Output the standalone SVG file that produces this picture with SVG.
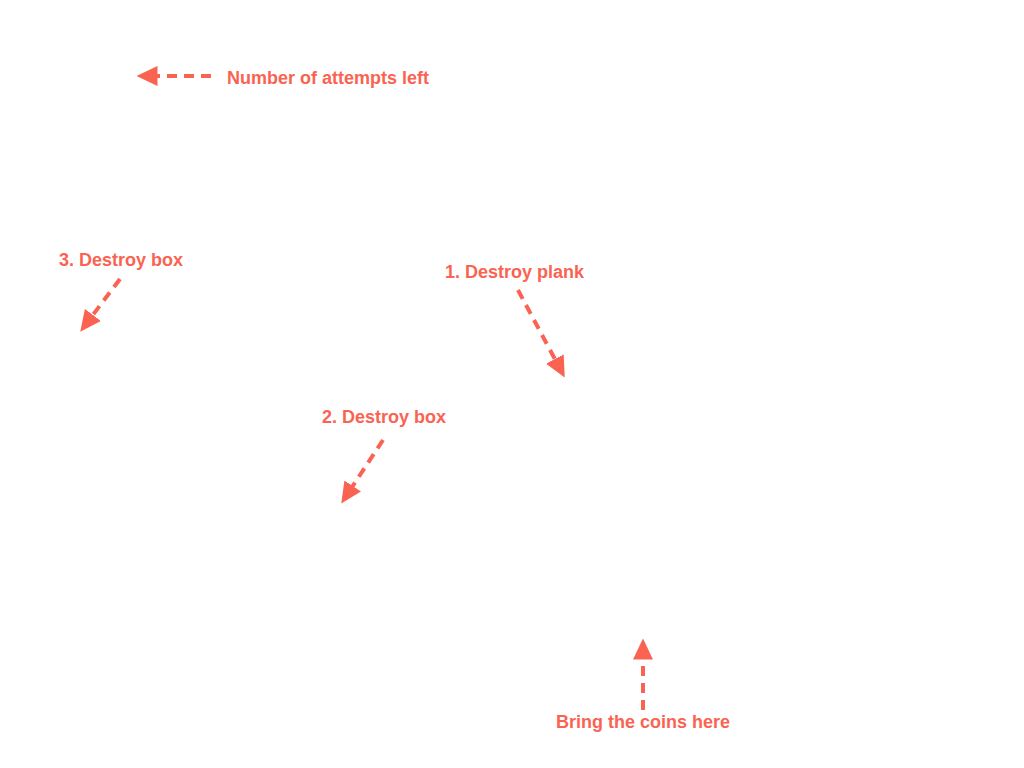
<svg xmlns="http://www.w3.org/2000/svg" width="1024" height="768" viewBox="0 0 1024 768">
<style>
.lbl{font-family:"Liberation Sans",Arial,sans-serif;font-weight:bold;font-size:18px;fill:#FA6352}
.con{stroke:#FA6352;stroke-width:4;fill:none;stroke-dasharray:10 7}
</style>
<defs>
<marker id="ah" markerUnits="userSpaceOnUse" markerWidth="21" markerHeight="21" viewBox="0 0 21 21" refX="0.5" refY="10.5" orient="auto">
<path d="M0,0.5 L21,10.5 L0,20.5 Z" fill="#FA6352"/>
</marker>
</defs>
<rect width="1024" height="768" fill="#FFFFFF"/>
<g id="connectors">
<path class="con" d="M211,76 L157,76" marker-end="url(#ah)"/>
<path class="con" d="M120,279 L92.6,315.3" marker-end="url(#ah)"/>
<path class="con" d="M518,290 L555.1,359.5" marker-end="url(#ah)"/>
<path class="con" d="M383,440 L352.5,486.4" marker-end="url(#ah)"/>
<path class="con" d="M643,710 L643,659" marker-end="url(#ah)"/>
</g>
<g id="attempts"><text class="lbl" x="227" y="84">Number of attempts left</text></g>
<g id="box3"><text class="lbl" x="59" y="266">3. Destroy box</text></g>
<g id="plank1"><text class="lbl" x="445" y="278">1. Destroy plank</text></g>
<g id="box2"><text class="lbl" x="322" y="423">2. Destroy box</text></g>
<g id="coins"><text class="lbl" x="556" y="728">Bring the coins here</text></g>
</svg>
